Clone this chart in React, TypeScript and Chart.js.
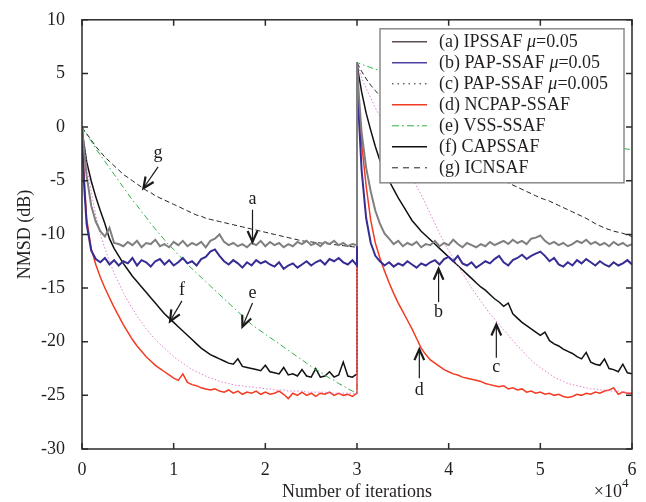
import React, { useEffect, useRef } from "react";
import { Chart, registerables } from "chart.js";
Chart.register(...registerables);

const SERIF = '"Liberation Serif", "Times New Roman", serif';

// Iterations (x10^4) for one stage; the second stage starts at STAGE_SHIFT
const ITER_HALF = [
  0, 0.02, 0.05, 0.1, 0.15, 0.2, 0.25, 0.3, 0.35, 0.4,
  0.45, 0.5, 0.55, 0.6, 0.65, 0.7, 0.75, 0.8, 0.85, 0.9,
  0.95, 1.0, 1.05, 1.1, 1.15, 1.2, 1.25, 1.3, 1.35, 1.4,
  1.45, 1.5, 1.55, 1.6, 1.65, 1.7, 1.75, 1.8, 1.85, 1.9,
  1.95, 2.0, 2.05, 2.1, 2.15, 2.2, 2.25, 2.3, 2.35, 2.4,
  2.45, 2.5, 2.55, 2.6, 2.65, 2.7, 2.75, 2.8, 2.85, 2.9,
  2.95, 3.0,
];
const STAGE_SHIFT = 3;

// (a) IPSSAF mu=0.05
const A_STAGE1 = [
  0, -2.0, -4.5, -7.3, -8.8, -9.7, -10.2, -9.4, -10.8, -10.9,
  -11.1, -10.7, -11.0, -10.6, -11.2, -10.8, -10.9, -10.5, -11.1, -10.9,
  -11.2, -10.7, -11.0, -10.6, -11.1, -10.8, -11.0, -10.7, -11.2, -10.6,
  -10.4, -10.0, -10.7, -11.0, -10.8, -11.1, -10.9, -11.2, -10.8, -11.0,
  -10.6, -11.1, -10.7, -11.0, -10.8, -11.2, -10.9, -11.1, -10.7, -10.9,
  -10.6, -11.0, -10.8, -11.1, -10.7, -10.9, -10.6, -11.0, -10.8, -11.1,
  -10.9, -11.0,
];
const A_STAGE2 = [
  6.0, 3.0, -0.5, -3.8, -6.0, -7.8, -9.0, -9.9, -10.4, -10.9,
  -10.6, -11.1, -10.8, -11.0, -10.7, -11.2, -10.9, -11.0, -10.6, -11.1,
  -10.8, -11.0, -10.5, -10.9, -11.2, -10.8, -11.0, -11.2, -10.9, -11.1,
  -10.7, -11.0, -10.8, -10.6, -10.9, -10.5, -10.8, -10.6, -10.9, -10.4,
  -10.3, -10.1, -10.6, -10.9, -10.7, -11.0, -10.8, -11.1, -10.9, -10.6,
  -10.8, -10.5, -10.9, -10.7, -11.0, -10.8, -11.1, -10.7, -11.0, -10.8,
  -11.1, -10.9,
];

// (b) PAP-SSAF mu=0.05
const B_STAGE1 = [
  0, -5.0, -9.0, -11.5, -12.3, -12.6, -12.2, -12.8, -12.4, -12.9,
  -12.5, -12.7, -12.2, -12.9, -12.4, -12.6, -13.0, -12.5, -12.3, -12.8,
  -12.4, -12.9, -12.6, -12.2, -12.7, -12.5, -12.9, -12.3, -12.1, -11.6,
  -11.4, -12.0, -12.5, -12.8, -12.4, -12.7, -13.1, -12.6, -12.9, -12.4,
  -12.7, -12.5, -12.8, -13.0, -12.6, -13.2, -12.9, -12.7, -13.1, -12.8,
  -12.5, -12.9, -12.6, -12.4, -12.8, -12.3, -12.5, -12.2, -12.6, -12.8,
  -12.4, -12.9,
];
const B_STAGE2 = [
  6.0, 1.0, -4.0, -8.5, -10.8, -12.0, -12.5, -12.9, -12.6, -13.0,
  -12.7, -12.9, -12.5, -12.8, -13.1, -12.7, -12.9, -12.6, -12.4, -12.8,
  -12.3, -12.1, -12.5, -12.0, -12.7, -12.9, -12.6, -13.1, -12.8, -12.5,
  -12.7, -12.3, -12.0, -12.6, -12.9, -12.4, -12.2, -11.9, -12.3, -12.0,
  -11.8, -11.6, -12.0, -12.5, -12.2, -12.8, -13.0, -12.6, -12.9, -12.4,
  -12.7, -12.3, -12.6, -12.9, -12.5, -12.8, -13.0, -12.6, -12.9, -12.7,
  -12.4, -12.8,
];

// (c) PAP-SSAF mu=0.005
const C_STAGE1 = [
  0, -1.5, -3.5, -6.0, -8.2, -10.0, -11.3, -12.5, -13.6, -14.5,
  -15.4, -16.2, -16.9, -17.6, -18.2, -18.8, -19.3, -19.8, -20.2, -20.6,
  -21.0, -21.4, -21.7, -22.0, -22.3, -22.6, -22.8, -23.0, -23.2, -23.4,
  -23.5, -23.7, -23.8, -23.9, -24.0, -24.1, -24.1, -24.2, -24.2, -24.3,
  -24.3, -24.4, -24.4, -24.5, -24.5, -24.5, -24.6, -24.6, -24.6, -24.6,
  -24.7, -24.7, -24.7, -24.7, -24.7, -24.8, -24.8, -24.8, -24.8, -24.8,
  -24.8, -24.9,
];
const C_STAGE2 = [
  6.0, 5.5, 4.6, 3.6, 2.7, 1.8, 1.0, 0.2, -0.6, -1.4,
  -2.2, -3.0, -3.8, -4.7, -5.5, -6.3, -7.2, -8.1, -9.0, -9.9,
  -10.7, -11.5, -12.2, -12.9, -13.6, -14.3, -15.0, -15.6, -16.2, -16.8,
  -17.4, -17.9, -18.4, -18.9, -19.4, -19.9, -20.4, -20.8, -21.3, -21.7,
  -22.1, -22.4, -22.7, -23.0, -23.3, -23.5, -23.7, -23.9, -24.0, -24.1,
  -24.2, -24.3, -24.4, -24.4, -24.5, -24.5, -24.6, -24.6, -24.6, -24.7,
  -24.7, -24.8,
];

// (d) NCPAP-SSAF
const D_STAGE1 = [
  0, -4.0, -8.5, -11.3, -12.8, -14.0, -15.0, -15.9, -16.8, -17.6,
  -18.4, -19.1, -19.8, -20.4, -20.9, -21.4, -21.8, -22.2, -22.5, -22.8,
  -23.1, -23.4, -23.6, -23.0, -23.8, -24.0, -24.1, -24.3, -24.4, -24.5,
  -24.4, -24.6, -24.7, -24.5, -24.8, -24.6, -24.9, -24.7, -24.8, -24.6,
  -24.9, -24.7, -24.9, -24.8, -24.6, -24.9, -25.3, -24.8, -25.0, -24.7,
  -25.0, -24.8, -25.1, -24.8, -24.9, -24.7, -25.0, -24.8, -25.0, -24.9,
  -25.1, -24.8,
];
const D_STAGE2 = [
  6.0, 2.0, -1.5, -5.5, -8.7, -10.8, -12.2, -13.4, -14.5, -15.5,
  -16.4, -17.2, -18.0, -18.8, -19.7, -20.6, -21.2, -21.7, -22.0, -22.3,
  -22.6, -22.8, -23.0, -23.1, -23.3, -23.4, -23.5, -23.6, -23.7, -23.9,
  -24.0, -24.1, -24.2, -24.1, -24.4, -24.3, -24.5, -24.4, -24.7, -24.6,
  -24.8, -24.7, -24.9, -24.8, -25.0, -24.9, -25.1, -25.2, -25.1, -24.9,
  -25.0, -24.8, -24.9, -24.7, -24.8, -24.6, -24.5, -24.3, -24.9, -24.7,
  -24.8, -24.8,
];

// (e) VSS-SSAF
const E_STAGE1 = [
  0, -0.3, -0.7, -1.3, -2.0, -2.6, -3.2, -3.8, -4.4, -5.0,
  -5.6, -6.2, -6.8, -7.3, -7.9, -8.4, -9.0, -9.5, -10.0, -10.5,
  -11.0, -11.4, -11.9, -12.3, -12.8, -13.2, -13.6, -14.0, -14.4, -14.8,
  -15.2, -15.6, -16.0, -16.4, -16.8, -17.2, -17.6, -18.0, -18.4, -18.7,
  -19.0, -19.3, -19.6, -19.9, -20.2, -20.5, -20.8, -21.1, -21.4, -21.7,
  -22.0, -22.3, -22.6, -22.8, -23.1, -23.4, -23.6, -23.9, -24.1, -24.4,
  -24.6, -24.8,
];
const E_STAGE2 = [
  6.0, 5.95, 5.85, 5.7, 5.55, 5.4, 5.3, 5.15, 5.0, 4.85,
  4.7, 4.55, 4.4, 4.25, 4.1, 3.95, 3.8, 3.65, 3.5, 3.35,
  3.2, 3.05, 2.9, 2.75, 2.6, 2.45, 2.3, 2.15, 2.0, 1.85,
  1.7, 1.55, 1.4, 1.25, 1.1, 0.95, 0.8, 0.65, 0.5, 0.35,
  0.2, 0.05, -0.1, -0.25, -0.4, -0.55, -0.7, -0.85, -1.0, -1.15,
  -1.3, -1.4, -1.5, -1.6, -1.7, -1.8, -1.85, -1.9, -1.95, -2.0,
  -2.05, -2.1,
];

// (f) CAPSSAF
const F_STAGE1 = [
  0, -1.5, -3.2, -5.0, -6.5, -7.8, -9.0, -10.4, -11.3, -12.0,
  -12.7, -13.3, -13.9, -14.4, -14.9, -15.4, -15.9, -16.4, -16.9, -17.4,
  -17.8, -18.2, -18.6, -19.0, -19.4, -19.8, -20.2, -20.6, -20.9, -21.2,
  -21.4, -21.6, -21.8, -22.0, -22.1, -21.6, -22.3, -22.4, -22.5, -22.6,
  -22.7, -22.2, -22.8, -22.9, -23.0, -22.4, -23.1, -23.0, -23.2, -22.6,
  -23.2, -23.3, -22.5, -23.3, -23.2, -22.8, -23.3, -23.1, -21.9, -23.2,
  -23.3, -23.0,
];
const F_STAGE2 = [
  6.0, 4.8, 3.3, 1.3, -0.3, -1.8, -3.1, -4.1, -5.0, -5.8,
  -6.6, -7.3, -8.0, -8.7, -9.2, -9.7, -10.1, -10.5, -10.9, -11.3,
  -11.7, -12.1, -12.5, -12.9, -13.3, -13.7, -14.1, -14.5, -14.9, -15.2,
  -15.6, -16.0, -16.3, -16.7, -16.4, -17.4, -17.8, -18.2, -18.5, -18.8,
  -19.1, -19.4, -19.1, -19.9, -20.2, -20.4, -20.7, -20.9, -21.1, -21.4,
  -21.6, -21.0, -21.9, -22.1, -22.2, -21.6, -22.5, -22.6, -22.8, -22.1,
  -22.9, -23.0,
];

// (g) ICNSAF
const G_STAGE1 = [
  0, -0.25, -0.6, -1.2, -1.8, -2.3, -2.8, -3.2, -3.6, -4.0,
  -4.4, -4.7, -5.0, -5.3, -5.6, -5.9, -6.1, -6.4, -6.6, -6.8,
  -7.0, -7.2, -7.4, -7.6, -7.8, -8.0, -8.2, -8.3, -8.5, -8.6,
  -8.7, -8.8, -8.9, -9.0, -9.1, -9.2, -9.3, -9.4, -9.5, -9.6,
  -9.7, -9.8, -9.9, -10.0, -10.1, -10.2, -10.3, -10.4, -10.5, -10.6,
  -10.65, -10.7, -10.75, -10.8, -10.85, -10.9, -10.95, -11.0, -11.05, -11.1,
  -11.15, -11.2,
];
const G_STAGE2 = [
  6.0, 5.7, 5.2, 4.5, 3.9, 3.4, 2.9, 2.5, 2.1, 1.7,
  1.35, 1.0, 0.65, 0.3, 0.0, -0.3, -0.6, -0.9, -1.2, -1.5,
  -1.75, -2.0, -2.3, -2.6, -2.85, -3.1, -3.35, -3.6, -3.85, -4.1,
  -4.35, -4.6, -4.8, -5.0, -5.2, -5.4, -5.6, -5.8, -6.0, -6.2,
  -6.4, -6.6, -6.75, -6.9, -7.1, -7.3, -7.5, -7.7, -7.9, -8.1,
  -8.3, -8.5, -8.75, -9.0, -9.2, -9.4, -9.55, -9.7, -9.8, -9.9,
  -10.05, -10.2,
];

const X_TICKS = [0, 1, 2, 3, 4, 5, 6];
const Y_TICKS = [-30, -25, -20, -15, -10, -5, 0, 5, 10];

const LEGEND_LABELS = [
  ["(a) IPSSAF ", "\u03bc", "=0.05"],
  ["(b) PAP-SSAF ", "\u03bc", "=0.05"],
  ["(c) PAP-SSAF ", "\u03bc", "=0.005"],
  ["(d) NCPAP-SSAF", "", ""],
  ["(e) VSS-SSAF", "", ""],
  ["(f) CAPSSAF", "", ""],
  ["(g) ICNSAF", "", ""],
];

// Annotation letters: label position, arrow tail, arrow tip (data coords)
const ANNOTATIONS = [
  { t: "g", lx: 0.83, ly: -2.4, fx: 0.83, fy: -3.7, tx: 0.67, ty: -5.7 },
  { t: "a", lx: 1.86, ly: -6.7, fx: 1.86, fy: -7.7, tx: 1.86, ty: -10.7 },
  { t: "f", lx: 1.09, ly: -15.2, fx: 1.09, fy: -16.2, tx: 0.96, ty: -18.1 },
  { t: "e", lx: 1.86, ly: -15.5, fx: 1.86, fy: -16.4, tx: 1.75, ty: -18.6 },
  { t: "b", lx: 3.89, ly: -17.3, fx: 3.89, fy: -16.3, tx: 3.89, ty: -13.2 },
  { t: "c", lx: 4.52, ly: -22.4, fx: 4.52, fy: -21.5, tx: 4.52, ty: -18.4 },
  { t: "d", lx: 3.68, ly: -24.5, fx: 3.68, fy: -23.4, tx: 3.68, ty: -20.7 },
];

const SERIES = [
  { s1: A_STAGE1, s2: A_STAGE2, color: "#7f7f7f", legend: "#5e4e4e", width: 2, dash: [] as number[] },
  { s1: B_STAGE1, s2: B_STAGE2, color: "#362c93", legend: "#4a3fa3", width: 2, dash: [] as number[] },
  { s1: C_STAGE1, s2: C_STAGE2, color: "#e07fcf", legend: "#222222", width: 1, dash: [1.5, 2] },
  { s1: D_STAGE1, s2: D_STAGE2, color: "#f23b22", legend: "#f23b22", width: 1.5, dash: [] as number[] },
  { s1: E_STAGE1, s2: E_STAGE2, color: "#2fae45", legend: "#2fae45", width: 1, dash: [6, 3, 1.5, 3] },
  { s1: F_STAGE1, s2: F_STAGE2, color: "#111111", legend: "#111111", width: 1.5, dash: [] as number[] },
  { s1: G_STAGE1, s2: G_STAGE2, color: "#222222", legend: "#222222", width: 1, dash: [5, 3] },
];

function drawArrow(ctx: CanvasRenderingContext2D, x1: number, y1: number, x2: number, y2: number) {
  ctx.beginPath();
  ctx.lineWidth = 1.2;
  ctx.moveTo(x1, y1);
  ctx.lineTo(x2, y2);
  ctx.stroke();
  const ang = Math.atan2(y1 - y2, x1 - x2);
  const len = 12;
  const spread = 0.42;
  ctx.beginPath();
  ctx.lineWidth = 2.2;
  ctx.moveTo(x2 + len * Math.cos(ang + spread), y2 + len * Math.sin(ang + spread));
  ctx.lineTo(x2, y2);
  ctx.lineTo(x2 + len * Math.cos(ang - spread), y2 + len * Math.sin(ang - spread));
  ctx.stroke();
}

const decorPlugin = {
  id: "decor",
  afterDatasetsDraw(chart: any) {
    const { ctx, chartArea: ca, scales } = chart;
    const xs = scales.x;
    const ys = scales.y;
    ctx.save();
    // annotations
    ctx.strokeStyle = "#1a1a1a";
    ctx.fillStyle = "#1a1a1a";
    ctx.font = `18px ${SERIF}`;
    ctx.textAlign = "center";
    ctx.textBaseline = "middle";
    ctx.setLineDash([]);
    for (const a of ANNOTATIONS) {
      ctx.fillText(a.t, xs.getPixelForValue(a.lx), ys.getPixelForValue(a.ly));
      drawArrow(
        ctx,
        xs.getPixelForValue(a.fx),
        ys.getPixelForValue(a.fy),
        xs.getPixelForValue(a.tx),
        ys.getPixelForValue(a.ty)
      );
    }

    // legend
    const bw = 244;
    const bh = 154;
    const bx = ca.right - 8 - bw;
    const by = ca.top + 9;
    ctx.fillStyle = "#ffffff";
    ctx.fillRect(bx, by, bw, bh);
    ctx.strokeStyle = "#8a8a8a";
    ctx.lineWidth = 1.5;
    ctx.strokeRect(bx, by, bw, bh);
    ctx.textAlign = "left";
    ctx.textBaseline = "middle";
    LEGEND_LABELS.forEach((parts, i) => {
      const ry = by + 13 + i * 21;
      const s = SERIES[i];
      ctx.beginPath();
      ctx.strokeStyle = s.legend;
      ctx.lineWidth = Math.min(s.width, 1.5);
      ctx.setLineDash(i === 2 ? [1.5, 4] : i === 4 ? [7, 3, 2, 3] : i === 6 ? [6, 5] : []);
      ctx.moveTo(bx + 12, ry);
      ctx.lineTo(bx + 47, ry);
      ctx.stroke();
      ctx.setLineDash([]);
      let tx = bx + 59;
      ctx.fillStyle = "#231f20";
      ctx.font = `18px ${SERIF}`;
      ctx.fillText(parts[0], tx, ry);
      tx += ctx.measureText(parts[0]).width;
      if (parts[1]) {
        ctx.font = `italic 18px ${SERIF}`;
        ctx.fillText(parts[1], tx, ry);
        tx += ctx.measureText(parts[1]).width;
        ctx.font = `18px ${SERIF}`;
        ctx.fillText(parts[2], tx, ry);
      }
    });

    // frame and inner ticks
    ctx.strokeStyle = "#2a2a2a";
    ctx.lineWidth = 1.5;
    ctx.setLineDash([]);
    ctx.strokeRect(ca.left, ca.top, ca.right - ca.left, ca.bottom - ca.top);
    const tl = 6;
    ctx.beginPath();
    for (const v of X_TICKS) {
      const px = xs.getPixelForValue(v);
      ctx.moveTo(px, ca.bottom);
      ctx.lineTo(px, ca.bottom - tl);
      ctx.moveTo(px, ca.top);
      ctx.lineTo(px, ca.top + tl);
    }
    for (const v of Y_TICKS) {
      const py = ys.getPixelForValue(v);
      ctx.moveTo(ca.left, py);
      ctx.lineTo(ca.left + tl, py);
      ctx.moveTo(ca.right, py);
      ctx.lineTo(ca.right - tl, py);
    }
    ctx.stroke();

    // axis titles
    ctx.fillStyle = "#231f20";
    ctx.font = `18px ${SERIF}`;
    ctx.textAlign = "center";
    ctx.textBaseline = "middle";
    ctx.fillText("Number of iterations", (ca.left + ca.right) / 2, ca.bottom + 43);
    ctx.textAlign = "right";
    ctx.fillText("\u00d710", ca.right - 10, ca.bottom + 43);
    ctx.font = `13px ${SERIF}`;
    ctx.textAlign = "left";
    ctx.fillText("4", ca.right - 10, ca.bottom + 35);
    ctx.font = `18px ${SERIF}`;
    ctx.save();
    ctx.translate(25, (ca.top + ca.bottom) / 2);
    ctx.rotate(-Math.PI / 2);
    ctx.textAlign = "center";
    ctx.textBaseline = "middle";
    ctx.fillText("NMSD (dB)", 0, 0);
    ctx.restore();

    ctx.restore();
  },
};

export default function App() {
  const ref = useRef<HTMLCanvasElement | null>(null);
  useEffect(() => {
    if (!ref.current) return;
    const datasets = SERIES.map((s, idx) => ({
      label: LEGEND_LABELS[idx].join(""),
      data: [
        ...ITER_HALF.map((x, i) => ({ x, y: s.s1[i] })),
        ...ITER_HALF.map((x, i) => ({ x: x + STAGE_SHIFT, y: s.s2[i] })),
      ],
      borderColor: s.color,
      borderWidth: s.width,
      borderDash: s.dash,
      pointRadius: 0,
      tension: 0,
      fill: false,
    }));
    const chart = new Chart(ref.current, {
      type: "line",
      data: { datasets },
      options: {
        animation: false,
        responsive: false,
        events: [],
        layout: { padding: { left: 0, right: 14, top: 15, bottom: 0 } },
        plugins: { legend: { display: false }, tooltip: { enabled: false } },
        scales: {
          x: {
            type: "linear",
            min: 0,
            max: 6,
            afterBuildTicks: (s: any) => {
              s.ticks = X_TICKS.map((v) => ({ value: v }));
            },
            afterFit: (s: any) => {
              s.height = 53;
            },
            grid: { display: false },
            border: { display: false },
            ticks: {
              color: "#231f20",
              padding: 2,
              font: { family: SERIF, size: 18 },
              maxRotation: 0,
            },
          },
          y: {
            type: "linear",
            min: -30,
            max: 10,
            afterBuildTicks: (s: any) => {
              s.ticks = Y_TICKS.map((v) => ({ value: v }));
            },
            afterFit: (s: any) => {
              s.width = 82;
            },
            grid: { display: false },
            border: { display: false },
            ticks: {
              color: "#231f20",
              padding: 9,
              font: { family: SERIF, size: 18 },
            },
          },
        },
      },
      plugins: [decorPlugin],
    } as any);
    return () => chart.destroy();
  }, []);
  return (
    <div style={{ position: "absolute", left: 0, top: 0, width: 646, height: 502, background: "#fff" }}>
      <canvas ref={ref} width={646} height={502} style={{ display: "block", width: 646, height: 502 }} />
    </div>
  );
}
